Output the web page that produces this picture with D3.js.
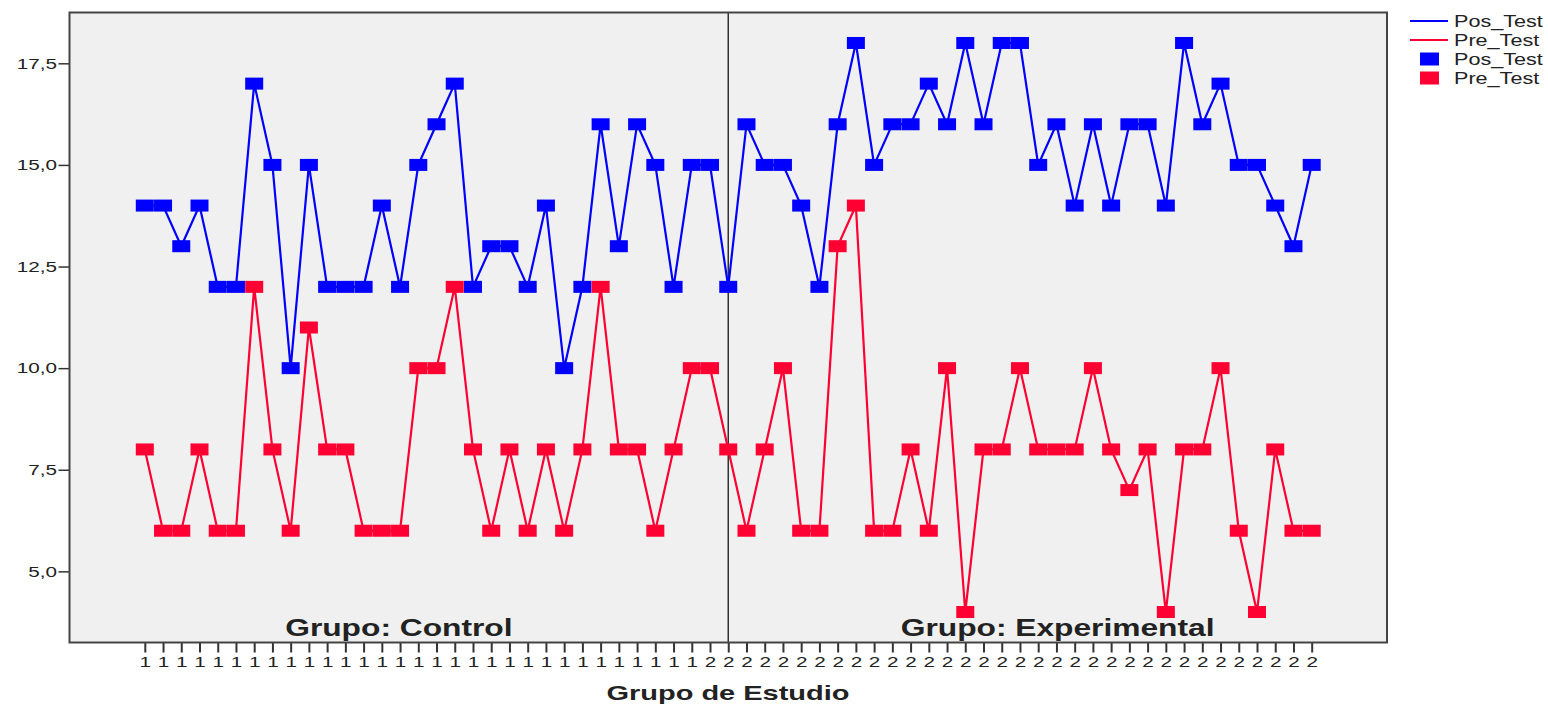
<!DOCTYPE html>
<html>
<head>
<meta charset="utf-8">
<script src="https://cdn.jsdelivr.net/npm/d3@7"></script>
<style>
  body { margin: 0; background: #fff; }
  text { font-family: "Liberation Sans", Arial, sans-serif; fill: #222; }
</style>
</head>
<body>
<div id="chart"></div>
<script>
/* DATA */
// group of each case (x tick labels)
const grupo = [
  "1","1","1","1","1","1","1","1","1","1","1","1","1","1","1","1",
  "1","1","1","1","1","1","1","1","1","1","1","1","1","1","1",
  "2","2","2","2","2","2","2","2","2","2","2","2","2","2","2","2","2",
  "2","2","2","2","2","2","2","2","2","2","2","2","2","2","2","2","2"
];
const posTest = [
  14,14,13,14,12,12,17,15,10,15,12,12,12,14,12,15,16,17,12,13,13,12,14,10,12,16,13,16,15,12,15,
  15,12,16,15,15,14,12,16,18,15,16,16,17,16,18,16,18,18,15,16,14,16,14,16,16,14,18,16,17,15,15,14,13,15
];
const preTest = [
  8,6,6,8,6,6,12,8,6,11,8,8,6,6,6,10,10,12,8,6,8,6,8,6,8,12,8,8,6,8,10,
  10,8,6,8,10,6,6,13,14,6,6,8,6,10,4,8,8,10,8,8,8,10,8,7,8,4,8,8,10,6,4,8,6,6
];
const yTicks = [5, 7.5, 10, 12.5, 15, 17.5];
const panelLabels = ["Grupo: Control", "Grupo: Experimental"];
const splitIndex = 32; // where the reference line sits

/* CONSTANTS */
const width = 1548, height = 706;
const frame = { left: 69.5, right: 1387, top: 12.5, bottom: 642.5 };
const stretch = 1.38; // the original picture is stretched sideways
const blue = "#0000ff", red = "#ff0033";

const svg = d3.select("#chart").append("svg")
  .attr("width", width)
  .attr("height", height);

const idx = d3.range(posTest.length);

const xScale = d3.scalePoint()
  .domain(idx)
  .range([frame.left, frame.right])
  .padding(4.13);

const yScale = d3.scaleLinear()
  .domain([3.25, 18.75])
  .range([frame.bottom, frame.top]);

const comma = d3.formatLocale({ decimal: ",", thousands: ".", grouping: [3], currency: ["", ""] });

// plot background
svg.append("rect")
  .attr("x", frame.left).attr("y", frame.top)
  .attr("width", frame.right - frame.left)
  .attr("height", frame.bottom - frame.top)
  .attr("fill", "#f0f0f0");

// axes
const yAxis = svg.append("g")
  .attr("transform", `translate(${frame.left},0)`)
  .call(d3.axisLeft(yScale).tickValues(yTicks).tickFormat(comma.format(".1f")).tickSize(11).tickSizeOuter(0));
yAxis.select(".domain").remove();
yAxis.selectAll(".tick line").attr("stroke", "#333").attr("stroke-width", 1.5);
yAxis.selectAll(".tick text")
  .attr("x", -9)
  .attr("transform", `scale(${stretch},1)`)
  .style("font-size", "15px")
  .attr("fill", "#222");

const xAxis = svg.append("g")
  .attr("transform", `translate(0,${frame.bottom})`)
  .call(d3.axisBottom(xScale).tickFormat(i => grupo[i]).tickSize(10).tickSizeOuter(0));
xAxis.select(".domain").remove();
xAxis.selectAll(".tick line").attr("stroke", "#333").attr("stroke-width", 2);
xAxis.selectAll(".tick text")
  .attr("y", 14)
  .attr("transform", `scale(${stretch},1)`)
  .style("font-size", "15px")
  .attr("fill", "#222");

// reference line between groups
svg.append("line")
  .attr("x1", xScale(splitIndex)).attr("x2", xScale(splitIndex))
  .attr("y1", frame.top).attr("y2", frame.bottom)
  .attr("stroke", "#333").attr("stroke-width", 1.5);

// panel labels
const panelX = [(frame.left + xScale(splitIndex)) / 2, (xScale(splitIndex) + frame.right) / 2];
svg.selectAll(".panel")
  .data(panelLabels)
  .join("text")
  .attr("class", "panel")
  .attr("transform", (d, i) => `translate(${panelX[i]},636) scale(${stretch},1)`)
  .attr("text-anchor", "middle")
  .style("font-size", "23px")
  .style("font-weight", "bold")
  .text(d => d);

// lines
const line = d3.line()
  .x((d, i) => xScale(i))
  .y(d => yScale(d));

svg.append("path")
  .datum(posTest)
  .attr("fill", "none")
  .attr("stroke", blue)
  .attr("stroke-width", 2.2)
  .attr("d", line);

svg.append("path")
  .datum(preTest)
  .attr("fill", "none")
  .attr("stroke", red)
  .attr("stroke-width", 2.2)
  .attr("d", line);

// markers
const mw = 18, mh = 12;
svg.selectAll(".pos")
  .data(posTest)
  .join("rect")
  .attr("class", "pos")
  .attr("x", (d, i) => xScale(i) - mw / 2)
  .attr("y", d => yScale(d) - mh / 2)
  .attr("width", mw).attr("height", mh)
  .attr("fill", blue);

svg.selectAll(".pre")
  .data(preTest)
  .join("rect")
  .attr("class", "pre")
  .attr("x", (d, i) => xScale(i) - mw / 2)
  .attr("y", d => yScale(d) - mh / 2)
  .attr("width", mw).attr("height", mh)
  .attr("fill", red);

// frame
svg.append("rect")
  .attr("x", frame.left).attr("y", frame.top)
  .attr("width", frame.right - frame.left)
  .attr("height", frame.bottom - frame.top)
  .attr("fill", "none")
  .attr("stroke", "#444")
  .attr("stroke-width", 2);

// x axis title
svg.append("text")
  .attr("transform", `translate(728,700) scale(${stretch},1)`)
  .attr("text-anchor", "middle")
  .style("font-size", "21px")
  .style("font-weight", "bold")
  .text("Grupo de Estudio");

// legend
const legend = svg.append("g").attr("transform", "translate(1410,0)");
const legendItems = [
  { label: "Pos_Test", color: blue, type: "line", y: 21 },
  { label: "Pre_Test", color: red, type: "line", y: 40 },
  { label: "Pos_Test", color: blue, type: "rect", y: 59 },
  { label: "Pre_Test", color: red, type: "rect", y: 78 }
];
legendItems.forEach(d => {
  if (d.type === "line") {
    legend.append("line")
      .attr("x1", 0).attr("x2", 38)
      .attr("y1", d.y).attr("y2", d.y)
      .attr("stroke", d.color).attr("stroke-width", 2);
  } else {
    legend.append("rect")
      .attr("x", 10).attr("y", d.y - 6.5)
      .attr("width", 19).attr("height", 13)
      .attr("fill", d.color);
  }
  legend.append("text")
    .attr("transform", `translate(44,${d.y + 6}) scale(1.35,1)`)
    .style("font-size", "16px")
    .text(d.label);
});
</script>
</body>
</html>
